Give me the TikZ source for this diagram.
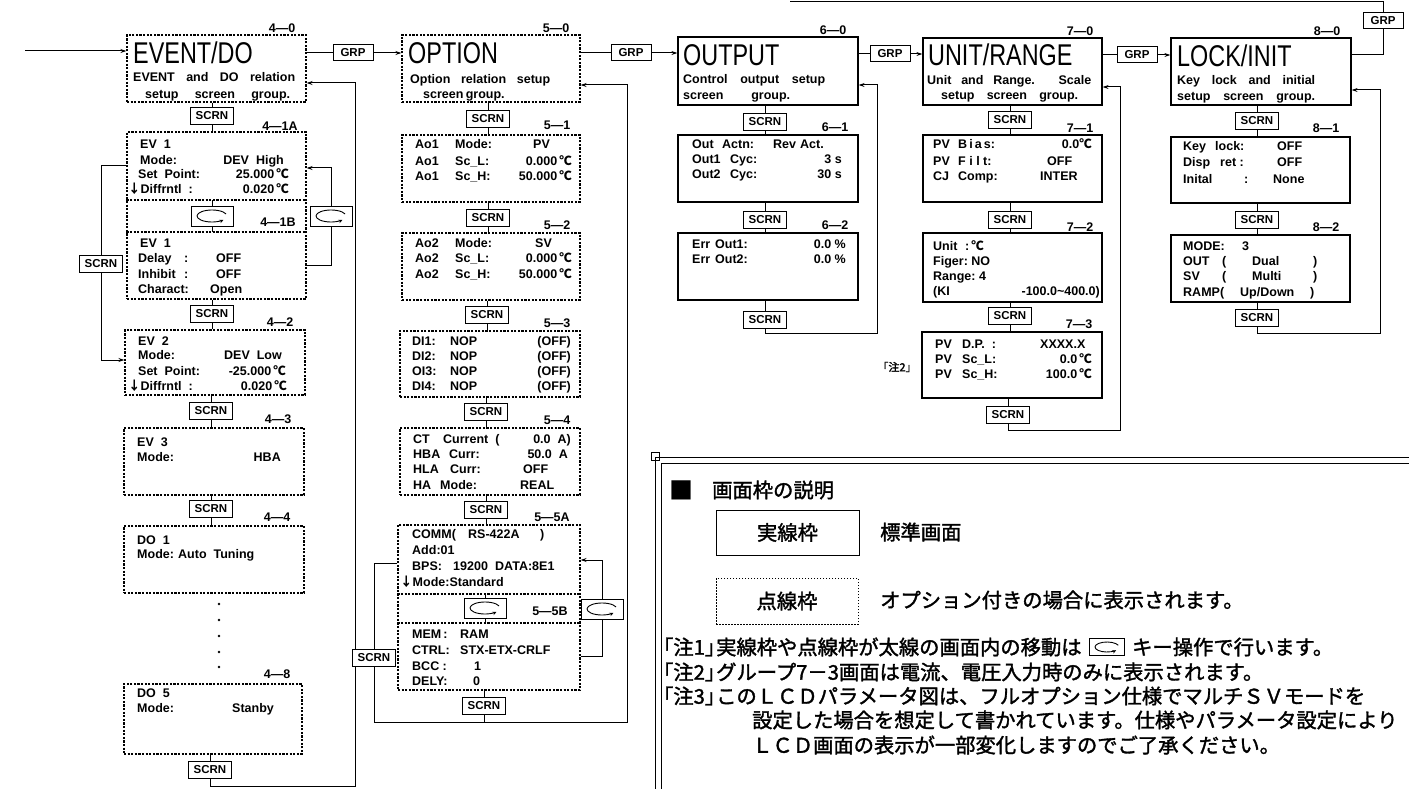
\documentclass[tikz,border=0pt]{standalone}
\usepackage{fontspec}
\setmainfont{Liberation Sans}
\newfontfamily\cjk{Noto Sans CJK JP}
\newfontfamily\cjkb{Noto Sans CJK JP}[FakeBold=1.6]
\usetikzlibrary{arrows.meta,fit}
\newcount\txc
\newcommand\tx[3][]{\global\advance\txc by 1\relax\node[txt,#1] (t\the\txc) at (#2) {#3};}
\newcommand\bx[6][dbox]{\node[#1,fit={(#3,#4) (#5,#6)}] (#2) {};}
\newcommand\dc{{\cjk ℃}}
\newcommand\da{{\cjk ↓}}
\newcommand\ttl[1]{\scalebox{0.78}[1]{#1}}
\begin{document}
\begin{tikzpicture}[x=1pt,y=-1pt,
 txt/.style={inner sep=0pt,anchor=west,font=\fontsize{12.5}{14}\selectfont\bfseries,text height=9pt,text depth=2.5pt},
 ea/.style={anchor=east},
 lab/.style={anchor=center},
 ttlsty/.style={inner sep=0pt,anchor=west,font=\fontsize{30}{30}\selectfont},
 dbox/.style={draw,line width=1.3pt,dash pattern=on 2.2pt off 1.4pt,inner sep=0pt},
 sbox/.style={draw,line width=1.2pt,inner sep=0pt},
 keyb/.style={draw,line width=1pt,fill=white,inner sep=0pt,minimum width=43pt,minimum height=17pt,font=\fontsize{11.5}{11.5}\selectfont\bfseries},
 grp/.style={keyb,minimum width=40pt,minimum height=16pt},
 icon/.style={draw,line width=1pt,fill=white,inner sep=0pt,minimum width=42pt,minimum height=20pt,
   path picture={\draw[line width=0.9pt,-{Stealth[length=4pt,width=3.5pt]}] ([shift={(20:15pt and 6pt)}]path picture bounding box.center) arc[start angle=20,end angle=320,x radius=15pt,y radius=6pt];}},
 smicon/.style={draw,line width=1pt,fill=white,inner sep=0pt,minimum width=35pt,minimum height=17pt,
   path picture={\draw[line width=0.9pt,-{Stealth[length=4pt,width=3.5pt]}] ([shift={(20:12pt and 5pt)}]path picture bounding box.center) arc[start angle=20,end angle=320,x radius=12pt,y radius=5pt];}},
 conn/.style={line width=1pt},
 arr/.style={conn,-{Stealth[length=6pt,width=4pt]}},
 dline/.style={line width=1.3pt,dash pattern=on 2.2pt off 1.4pt},
 jp/.style={inner sep=0pt,anchor=west,font=\cjkb\fontsize{20.3}{24}\selectfont},
]
\useasboundingbox[fill=white] (0,0) rectangle (1409,789);

% ================= EVENT/DO =================
\coordinate (start) at (25,51);
\bx{e0}{127}{35}{306}{102}
\node[ttlsty] (e0t) at (133,53) {\ttl{EVENT/DO}};
\tx{133,78}{\makebox[162pt][s]{EVENT and DO relation}}
\tx{145,95}{\makebox[145pt][s]{setup screen group.}}
\tx[lab]{282,29}{4—0}
\node[keyb] (s1) at (212,116) {SCRN};
\bx{e1}{127}{132}{306}{299}
\draw[dline] (e1.west |- 0,200) -- (e1.east |- 0,200);
\draw[dline] (e1.west |- 0,232) -- (e1.east |- 0,232);
\node[icon] (k1) at (212,216) {};
\tx[lab]{280,127}{4—1A}
\tx[lab]{278,223}{4—1B}
\tx{140,145}{EV\ \ 1}
\tx{140,161}{Mode:}\tx[ea]{284,161}{DEV\ \ High}
\tx{138,175}{Set\ \ Point:}\tx[ea]{289,175}{25.000\,\dc}
\tx{128,190}{\da Diffrntl\ \ :}\tx[ea]{289,190}{0.020\,\dc}
\tx{140,244}{EV\ \ 1}
\tx{138,259}{Delay}\tx{184,259}{:}\tx{216,259}{OFF}
\tx{138,275}{Inhibit}\tx{184,275}{:}\tx{216,275}{OFF}
\tx{138,290}{Charact:}\tx{210,290}{Open}
\node[keyb] (s2) at (212,314) {SCRN};
\bx{e2}{125}{330}{305}{395}
\tx[lab]{280,323}{4—2}
\tx{138,342}{EV\ \ 2}
\tx{138,356}{Mode:}\tx[ea]{282,356}{DEV\ \ Low}
\tx{138,372}{Set\ \ Point:}\tx[ea]{286,372}{-25.000\,\dc}
\tx{128,387}{\da Diffrntl\ \ :}\tx[ea]{287,387}{0.020\,\dc}
\node[keyb] (s3) at (211,411) {SCRN};
\bx{e3}{124}{428}{304}{495}
\tx[lab]{278,420}{4—3}
\tx{137,443}{EV\ \ 3}
\tx{137,458}{Mode:}\tx[ea]{281,458}{HBA}
\node[keyb] (s4) at (211,509) {SCRN};
\bx{e4}{124}{526}{304}{593}
\tx[lab]{277,518}{4—4}
\tx{137,541}{DO\ \ 1}
\tx{137,555}{Mode:}\tx{178,555}{Auto\ \ Tuning}
\foreach \yy in {604,620,636,652,667} \fill (219,\yy) circle (1.3pt);
\bx{e8}{124}{684}{302}{754}
\tx[lab]{277,675}{4—8}
\tx{137,694}{DO\ \ 5}
\tx{137,709}{Mode:}\tx{232,709}{Stanby}
\node[keyb] (s8) at (210,770) {SCRN};
\node[keyb] (sl1) at (101,264) {SCRN};
\node[icon] (kr1) at (331,216) {};

\draw[arr] (start) -- (e0.west |- start);
\draw[conn] (s1 |- e0.south) -- (s1.north) (s1.south) -- (s1 |- e1.north);
\draw[conn] (k1.north) -- (k1 |- 0,200) (k1.south) -- (k1 |- 0,232);
\draw[conn] (s2 |- e1.south) -- (s2.north) (s2.south) -- (s2 |- e2.north);
\draw[conn] (s3 |- e2.south) -- (s3.north) (s3.south) -- (s3 |- e3.north);
\draw[conn] (s4 |- e3.south) -- (s4.north) (s4.south) -- (s4 |- e4.north);
\draw[conn] (s8 |- e8.south) -- (s8.north);
\draw[conn] (e1.west |- 0,166) -- (sl1 |- 0,166) -- (sl1.north);
\draw[arr] (sl1.south) -- (sl1 |- 0,360) -- (e2.west |- 0,360);
\draw[conn] (e1.east |- 0,265) -- (kr1 |- 0,265) -- (kr1.south);
\draw[arr] (kr1.north) -- (kr1 |- 0,168) -- (e1.east |- 0,168);
\draw[arr] (s8.south) -- (s8 |- 0,786) -- (355,786) -- (355,83) -- (e0.east |- 0,83);

% ================= OPTION =================
\node[grp] (g1) at (353,53) {GRP};
\bx{o0}{402}{35}{580}{102}
\node[ttlsty] (o0t) at (408,53) {\ttl{OPTION}};
\tx{410,80}{\makebox[140pt][s]{Option relation setup}}
\tx{423,95}{\makebox[72pt][s]{screen group.}}
\tx[lab]{556,29}{5—0}
\node[keyb] (os1) at (488,119) {SCRN};
\bx{o1}{402}{135}{580}{202}
\tx[lab]{557,126}{5—1}
\tx{415,145}{Ao1}\tx{455,145}{Mode:}\tx{533,145}{PV}
\tx{415,162}{Ao1}\tx{455,162}{Sc\_L:}\tx[ea]{572,162}{0.000\,\dc}
\tx{415,177}{Ao1}\tx{455,177}{Sc\_H:}\tx[ea]{572,177}{50.000\,\dc}
\node[keyb] (os2) at (488,218) {SCRN};
\bx{o2}{402}{233}{580}{300}
\tx[lab]{557,226}{5—2}
\tx{415,244}{Ao2}\tx{455,244}{Mode:}\tx{535,244}{SV}
\tx{415,259}{Ao2}\tx{455,259}{Sc\_L:}\tx[ea]{572,259}{0.000\,\dc}
\tx{415,275}{Ao2}\tx{455,275}{Sc\_H:}\tx[ea]{572,275}{50.000\,\dc}
\node[keyb] (os3) at (487,315) {SCRN};
\bx{o3}{400}{331}{580}{397}
\tx[lab]{557,324}{5—3}
\tx{412,342}{DI1:}\tx{450,342}{NOP}\tx[ea]{571,342}{(OFF)}
\tx{412,357}{DI2:}\tx{450,357}{NOP}\tx[ea]{571,357}{(OFF)}
\tx{412,372}{OI3:}\tx{450,372}{NOP}\tx[ea]{571,372}{(OFF)}
\tx{412,387}{DI4:}\tx{450,387}{NOP}\tx[ea]{571,387}{(OFF)}
\node[keyb] (os4) at (486,412) {SCRN};
\bx{o4}{400}{428}{580}{495}
\tx[lab]{557,421}{5—4}
\tx{413,440}{CT}\tx{443,440}{Current\ \ (}\tx[ea]{571,440}{0.0\ \ A)}
\tx{413,455}{HBA}\tx{449,455}{Curr:}\tx[ea]{568,455}{50.0\ \ A}
\tx{413,470}{HLA}\tx{450,470}{Curr:}\tx{523,470}{OFF}
\tx{413,486}{HA}\tx{440,486}{Mode:}\tx{520,486}{REAL}
\node[keyb] (os45) at (486,510) {SCRN};
\bx{o5}{398}{525}{580}{690}
\draw[dline] (o5.west |- 0,594) -- (o5.east |- 0,594);
\draw[dline] (o5.west |- 0,623) -- (o5.east |- 0,623);
\tx[lab]{552,518}{5—5A}
\tx[lab]{550,612}{5—5B}
\tx{412,535}{COMM(}\tx{468,535}{RS-422A}\tx{540,535}{)}
\tx{412,551}{Add:01}
\tx{412,567}{BPS:}\tx{453,567}{19200}\tx{495,567}{DATA:8E1}
\tx{400,583}{\da Mode:Standard}
\node[icon] (ok5) at (485,608) {};
\tx{412,635}{MEM\,:}\tx{460,635}{RAM}
\tx{412,651}{CTRL:}\tx{460,651}{STX-ETX-CRLF}
\tx{412,667}{BCC\ :}\tx{474,667}{1}
\tx{412,682}{DELY:}\tx{473,682}{0}
\node[keyb] (os5) at (484,706) {SCRN};
\node[keyb] (osl) at (374,658) {SCRN};
\node[icon] (okr) at (602,609) {};

\draw[conn] (e0.east |- g1) -- (g1.west);
\draw[arr] (g1.east) -- (o0.west |- g1);
\draw[conn] (os1 |- o0.south) -- (os1.north) (os1.south) -- (os1 |- o1.north);
\draw[conn] (os2 |- o1.south) -- (os2.north) (os2.south) -- (os2 |- o2.north);
\draw[conn] (os3 |- o2.south) -- (os3.north) (os3.south) -- (os3 |- o3.north);
\draw[conn] (os4 |- o3.south) -- (os4.north) (os4.south) -- (os4 |- o4.north);
\draw[conn] (os45 |- o4.south) -- (os45.north) (os45.south) -- (os45 |- o5.north);
\draw[conn] (ok5.north) -- (ok5 |- 0,594) (ok5.south) -- (ok5 |- 0,623);
\draw[conn] (os5 |- o5.south) -- (os5.north) (os5.south) -- (os5 |- 0,722);
\draw[conn] (o5.west |- 0,563) -- (osl |- 0,563) -- (osl.north);
\draw[arr] (osl.south) -- (osl |- 0,722) -- (627,722) -- (627,85) -- (o0.east |- 0,85);
\draw[conn] (o5.east |- 0,656) -- (okr |- 0,656) -- (okr.south);
\draw[arr] (okr.north) -- (okr |- 0,560) -- (o5.east |- 0,560);

% ================= OUTPUT =================
\node[grp] (g2) at (631,53) {GRP};
\bx[sbox]{u0}{678}{37}{858}{105}
\node[ttlsty] (u0t) at (683,55) {\ttl{OUTPUT}};
\tx{683,80}{\makebox[142pt][s]{Control output setup}}
\tx{683,96}{\makebox[107pt][s]{screen group.}}
\tx[lab]{833,31}{6—0}
\node[keyb] (us1) at (765,122) {SCRN};
\bx[sbox]{u1}{678}{135}{858}{202}
\tx[lab]{835,128}{6—1}
\tx{692,145}{Out}\tx{722,145}{Actn:}\tx{773,145}{Rev}\tx{800,145}{Act.}
\tx{692,160}{Out1}\tx{730,160}{Cyc:}\tx[ea]{842,160}{3\ s}
\tx{692,175}{Out2}\tx{730,175}{Cyc:}\tx[ea]{842,175}{30\ s}
\node[keyb] (us2) at (765,220) {SCRN};
\bx[sbox]{u2}{678}{233}{858}{300}
\tx[lab]{835,226}{6—2}
\tx{692,245}{Err}\tx{715,245}{Out1:}\tx[ea]{846,245}{0.0\ \%}
\tx{692,260}{Err}\tx{715,260}{Out2:}\tx[ea]{846,260}{0.0\ \%}
\node[keyb] (us3) at (765,320) {SCRN};

\draw[conn] (o0.east |- g2) -- (g2.west);
\draw[arr] (g2.east) -- (u0.west |- g2);
\draw[conn] (us1 |- u0.south) -- (us1.north) (us1.south) -- (us1 |- u1.north);
\draw[conn] (us2 |- u1.south) -- (us2.north) (us2.south) -- (us2 |- u2.north);
\draw[conn] (us3 |- u2.south) -- (us3.north);
\draw[arr] (us3.south) -- (us3 |- 0,333) -- (877,333) -- (877,85) -- (u0.east |- 0,85);

% ================= UNIT/RANGE =================
\node[grp] (g3) at (890,54) {GRP};
\bx[sbox]{r0}{923}{38}{1102}{105}
\node[ttlsty] (r0t) at (928,55) {\ttl{UNIT/RANGE}};
\tx{927,81}{\makebox[164pt][s]{Unit and Range. Scale}}
\tx{941,96}{\makebox[137pt][s]{setup screen group.}}
\tx[lab]{1080,32}{7—0}
\node[keyb] (rs1) at (1010,120) {SCRN};
\bx[sbox]{r1}{923}{135}{1102}{202}
\tx[lab]{1080,129}{7—1}
\tx{933,145}{PV}\tx{958,145}{B\,i\,a\,s:}\tx[ea]{1092,145}{0.0\dc}
\tx{933,162}{PV}\tx{958,162}{F\ i\ l\ t:}\tx{1047,162}{OFF}
\tx{933,177}{CJ}\tx{958,177}{Comp:}\tx{1040,177}{INTER}
\node[keyb] (rs2) at (1010,220) {SCRN};
\bx[sbox]{r2}{923}{233}{1102}{302}
\tx[lab]{1080,228}{7—2}
\tx{933,247}{Unit}\tx{965,247}{:\,\dc}
\tx{933,262}{Figer:\ NO}
\tx{933,277}{Range:\ 4}
\tx{933,292}{(KI}\tx[ea]{1100,292}{-100.0\textasciitilde400.0)}
\node[keyb] (rs3) at (1010,316) {SCRN};
\bx[sbox]{r3}{922}{332}{1102}{398}
\tx[lab]{1079,325}{7—3}
\tx{935,345}{PV}\tx{962,345}{D.P.\ \ :}\tx{1040,345}{XXXX.X}
\tx{935,360}{PV}\tx{962,360}{Sc\_L:}\tx[ea]{1092,360}{0.0\,\dc}
\tx{935,375}{PV}\tx{962,375}{Sc\_H:}\tx[ea]{1092,375}{100.0\,\dc}
\node[inner sep=0pt,font=\cjkb\fontsize{11}{11}\selectfont] (nt2) at (897,367) {｢注2｣};
\node[keyb] (rs4) at (1008,415) {SCRN};

\draw[conn] (u0.east |- g3) -- (g3.west);
\draw[arr] (g3.east) -- (r0.west |- g3);
\draw[conn] (rs1 |- r0.south) -- (rs1.north) (rs1.south) -- (rs1 |- r1.north);
\draw[conn] (rs2 |- r1.south) -- (rs2.north) (rs2.south) -- (rs2 |- r2.north);
\draw[conn] (rs3 |- r2.south) -- (rs3.north) (rs3.south) -- (rs3 |- r3.north);
\draw[conn] (rs4 |- r3.south) -- (rs4.north);
\draw[arr] (rs4.south) -- (rs4 |- 0,430) -- (1120,430) -- (1120,87) -- (r0.east |- 0,87);

% ================= LOCK/INIT =================
\node[grp] (g4) at (1137,55) {GRP};
\bx[sbox]{l0}{1171}{38}{1351}{105}
\node[ttlsty] (l0t) at (1177,56) {\ttl{LOCK/INIT}};
\tx{1177,81}{\makebox[138pt][s]{Key lock and initial}}
\tx{1177,97}{\makebox[138pt][s]{setup screen group.}}
\tx[lab]{1327,32}{8—0}
\node[keyb] (ls1) at (1257,121) {SCRN};
\bx[sbox]{l1}{1171}{137}{1350}{203}
\tx[lab]{1326,129}{8—1}
\tx{1183,147}{Key}\tx{1215,147}{lock:}\tx{1277,147}{OFF}
\tx{1183,163}{Disp}\tx{1220,163}{ret\ :}\tx{1277,163}{OFF}
\tx{1183,180}{Inital}\tx{1244,180}{:}\tx{1273,180}{None}
\node[keyb] (ls2) at (1257,220) {SCRN};
\bx[sbox]{l2}{1171}{235}{1350}{302}
\tx[lab]{1326,228}{8—2}
\tx{1183,247}{MODE:}\tx{1242,247}{3}
\tx{1183,262}{OUT}\tx{1222,262}{(}\tx{1252,262}{Dual}\tx{1313,262}{)}
\tx{1183,277}{SV}\tx{1222,277}{(}\tx{1252,277}{Multi}\tx{1313,277}{)}
\tx{1183,293}{RAMP(}\tx{1240,293}{Up/Down}\tx{1310,293}{)}
\node[keyb] (ls3) at (1257,318) {SCRN};
\node[grp] (g5) at (1383,21) {GRP};

\draw[conn] (r0.east |- g4) -- (g4.west);
\draw[arr] (g4.east) -- (l0.west |- g4);
\draw[conn] (ls1 |- l0.south) -- (ls1.north) (ls1.south) -- (ls1 |- l1.north);
\draw[conn] (ls2 |- l1.south) -- (ls2.north) (ls2.south) -- (ls2 |- l2.north);
\draw[conn] (ls3 |- l2.south) -- (ls3.north);
\draw[arr] (ls3.south) -- (ls3 |- 0,333) -- (1380,333) -- (1380,90) -- (l0.east |- 0,90);
\draw[conn] (l0.east |- 0,55) -- (g5 |- 0,55) -- (g5.south);
\draw[conn] (g5.north) -- (g5 |- 0,1.5) -- (790,1.5);

% ================= Legend =================
\draw[line width=1pt] (655,789) -- (655,457) -- (1409,457);
\draw[line width=1pt] (661,789) -- (661,463) -- (1409,463);
\draw[line width=0.8pt] (651,452) rectangle (659,460);
\node[jp,font=\cjk\fontsize{24}{24}\selectfont] (j0) at (669,490) {■};
\node[jp] (j1) at (712,490) {画面枠の説明};
\node[draw,line width=1pt,inner sep=0pt,minimum width=143pt,minimum height=45pt,font=\cjkb\fontsize{20.3}{24}\selectfont] (jb1) at (787.5,532.5) {実線枠};
\node[jp] (j2) at (880,532) {標準画面};
\node[draw,line width=0.9pt,dash pattern=on 1.5pt off 1.5pt,inner sep=0pt,minimum width=142pt,minimum height=46pt,font=\cjkb\fontsize{20.3}{24}\selectfont] (jb2) at (787,601) {点線枠};
\node[jp] (j3) at (880,600) {オプション付きの場合に表示されます。};
\node[jp] (n1a) at (663,647) {｢注1｣};
\node[jp] (n1b) at (716,647) {実線枠や点線枠が太線の画面内の移動は};
\node[smicon] (n1i) at (1107,647) {};
\node[jp] (n1c) at (1132,647) {キー操作で行います。};
\node[jp] (n2a) at (663,672) {｢注2｣};
\node[jp] (n2b) at (716,672) {グループ7－3画面は電流、電圧入力時のみに表示されます。};
\node[jp] (n3a) at (663,696) {｢注3｣};
\node[jp] (n3b) at (716,696) {このＬＣＤパラメータ図は、フルオプション仕様でマルチＳＶモードを};
\node[jp] (n4) at (752,720) {設定した場合を想定して書かれています。仕様やパラメータ設定により};
\node[jp] (n5) at (752,745) {ＬＣＤ画面の表示が一部変化しますのでご了承ください。};
\end{tikzpicture}
\end{document}
